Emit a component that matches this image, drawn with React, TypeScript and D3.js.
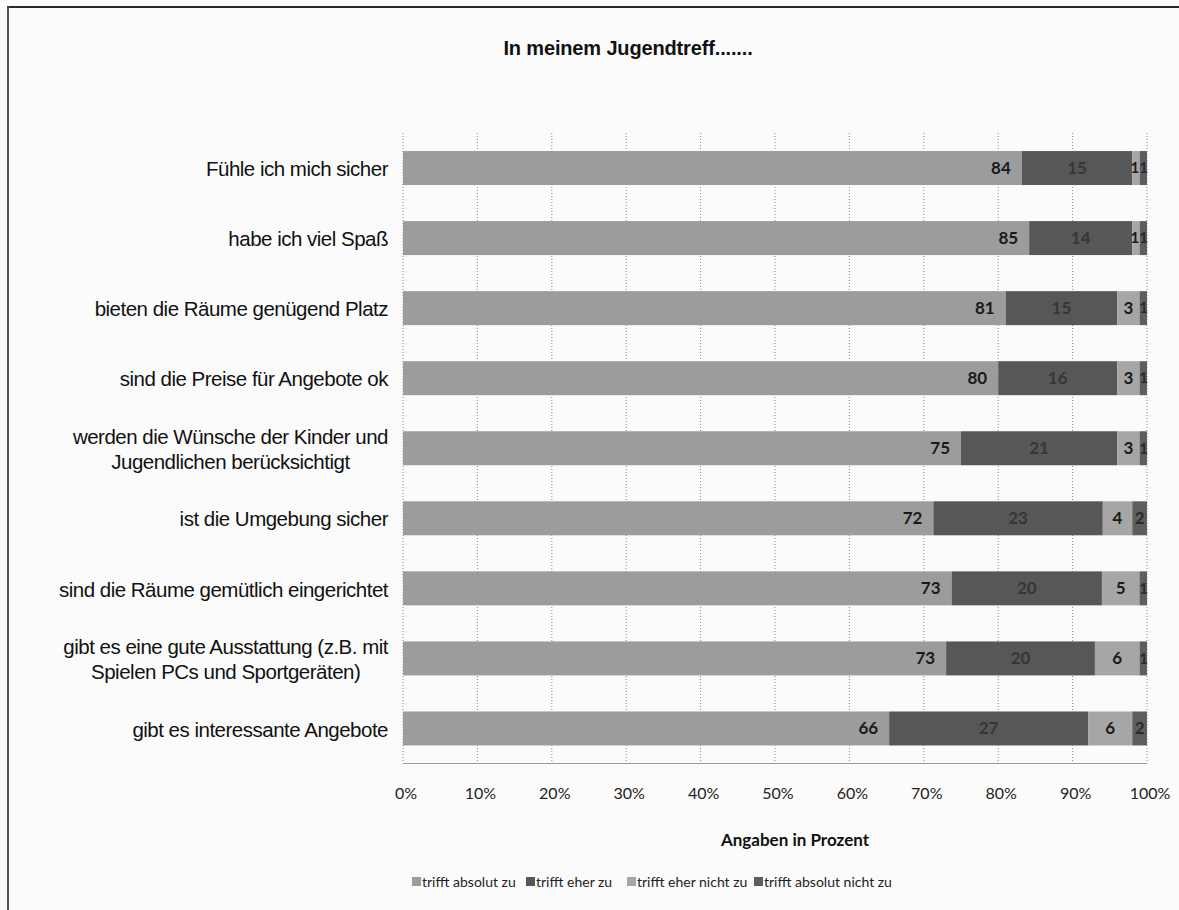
import React, { useEffect, useRef } from "react";
import * as d3 from "d3";

const categories: string[][] = [
  ["Fühle ich mich sicher"],
  ["habe ich viel Spaß"],
  ["bieten die Räume genügend Platz"],
  ["sind die Preise für Angebote ok"],
  ["werden die Wünsche der Kinder und", "Jugendlichen berücksichtigt"],
  ["ist die Umgebung sicher"],
  ["sind die Räume gemütlich eingerichtet"],
  ["gibt es eine gute Ausstattung (z.B. mit", "Spielen PCs und Sportgeräten)"],
  ["gibt es interessante Angebote"],
];
const absolutZu = [84, 85, 81, 80, 75, 72, 73, 73, 66];
const eherZu = [15, 14, 15, 16, 21, 23, 20, 20, 27];
const eherNichtZu = [1, 1, 3, 3, 3, 4, 5, 6, 6];
const absolutNichtZu = [1, 1, 1, 1, 1, 2, 1, 1, 2];
const seriesNames = ["trifft absolut zu", "trifft eher zu", "trifft eher nicht zu", "trifft absolut nicht zu"];
const seriesColors = ["#9c9c9c", "#575757", "#a6a6a6", "#5e5e5e"];
const labelColors = ["#1a1a1a", "#363636", "#1a1a1a", "#2a2a2a"];
const tickValues = [0, 0.1, 0.2, 0.3, 0.4, 0.5, 0.6, 0.7, 0.8, 0.9, 1];
const title = "In meinem Jugendtreff.......";
const axisTitle = "Angaben in Prozent";

export default function App() {
  const ref = useRef<SVGSVGElement>(null);
  useEffect(() => {
    const svg = d3.select(ref.current);
    svg.selectAll("*").remove();
    const W = 1179, H = 910;
    svg.append("rect").attr("width", W).attr("height", H).attr("fill", "#fbfbfb");
    // outer frame
    svg.append("line").attr("x1", 7).attr("x2", W).attr("y1", 7).attr("y2", 7).attr("stroke", "#2a2a2a").attr("stroke-width", 2);
    svg.append("line").attr("x1", 8).attr("x2", 8).attr("y1", 7).attr("y2", H).attr("stroke", "#555").attr("stroke-width", 2);

    const left = 403, right = 1147, top = 133, bottom = 763.5;
    const x = d3.scaleLinear().domain([0, 1]).range([left, right]);
    const idx = categories.map((_, i) => i);
    const y = d3.scaleBand<number>().domain(idx).range([top, bottom]).paddingInner(0.515).paddingOuter(0.2575);

    const rows = idx.map((i) => ({ i, s0: absolutZu[i], s1: eherZu[i], s2: eherNichtZu[i], s3: absolutNichtZu[i] }));
    const stack = d3.stack<any>().keys(["s0", "s1", "s2", "s3"]).offset(d3.stackOffsetExpand);
    const series = stack(rows);

    // gridlines
    svg.append("g").selectAll("line").data(tickValues).join("line")
      .attr("x1", (d) => x(d)).attr("x2", (d) => x(d)).attr("y1", top).attr("y2", bottom)
      .attr("stroke", "#8a8a8a").attr("stroke-width", 1).attr("stroke-dasharray", "1,2");
    svg.append("line").attr("x1", left).attr("x2", right).attr("y1", bottom).attr("y2", bottom)
      .attr("stroke", "#9a9a9a").attr("stroke-width", 1.2);

    // title
    svg.append("text").attr("x", 628).attr("y", 55).attr("text-anchor", "middle")
      .attr("font-family", "Liberation Sans, Arial, sans-serif").attr("font-weight", "bold")
      .attr("font-size", 20).attr("letter-spacing", -0.15).attr("fill", "#111").text(title);

    // bars
    const g = svg.append("g");
    series.forEach((s, k) => {
      g.append("g").selectAll("rect").data(s).join("rect")
        .attr("x", (d: any) => x(d[0])).attr("width", (d: any) => x(d[1]) - x(d[0]))
        .attr("y", (d: any) => y(d.data.i)!).attr("height", y.bandwidth())
        .attr("fill", seriesColors[k]);
    });
    // labels
    const lg = svg.append("g").attr("font-family", "Lato, Carlito, Calibri, sans-serif").attr("font-weight", "bold").attr("font-size", 17);
    series.forEach((s, k) => {
      lg.append("g").selectAll("text").data(s).join("text")
        .each(function (d: any) {
          const t = d3.select(this);
          const w = x(d[1]) - x(d[0]);
          let px = (x(d[0]) + x(d[1])) / 2;
          let anchor = "middle";
          let fs = 17;
          if (k === 0) { px = x(d[1]) - 11; anchor = "end"; }
          else if (k === 3 && w < 10) { px = x(d[1]) + 1; anchor = "end"; fs = 15; }
          else if (k === 2 && w < 10) { px = x(d[1]) - 0.5; anchor = "end"; fs = 15; }
          t.attr("x", px).attr("text-anchor", anchor).attr("font-size", fs);
        })
        .attr("y", (d: any) => y(d.data.i)! + y.bandwidth() / 2)
        .attr("dy", "0.35em")
        .attr("fill", labelColors[k])
        .text((d: any) => String((d.data as any)["s" + k]));
    });

    // category labels
    const cg = svg.append("g").attr("font-family", "Liberation Sans, Arial, sans-serif").attr("font-size", 20.5)
      .attr("letter-spacing", -0.5).attr("fill", "#111");
    categories.forEach((lines, i) => {
      const cy = y(i)! + y.bandwidth() / 2 + 1;
      const lh = 25;
      const texts = lines.map((ln, j) =>
        cg.append("text").attr("y", cy + (j - (lines.length - 1) / 2) * lh).attr("dy", "0.35em").text(ln)
      );
      const widths = texts.map((t) => (t.node() as SVGTextElement).getComputedTextLength());
      const maxW = Math.max(...widths);
      const rx = 388;
      texts.forEach((t) => t.attr("x", rx - maxW / 2).attr("text-anchor", "middle"));
    });

    // x tick labels
    svg.append("g").attr("font-family", "Lato, Carlito, Calibri, sans-serif").attr("font-size", 16).attr("fill", "#222")
      .selectAll("text").data(tickValues).join("text")
      .attr("x", (d) => x(d) + 3).attr("y", 799).attr("text-anchor", "middle")
      .text((d) => d3.format(".0%")(d));

    svg.append("text").attr("x", 795).attr("y", 846).attr("text-anchor", "middle")
      .attr("font-family", "Lato, Carlito, Calibri, sans-serif").attr("font-weight", "bold").attr("font-size", 17)
      .attr("fill", "#111").text(axisTitle);

    // legend
    const legX = [412, 526, 627, 754];
    const leg = svg.append("g").attr("font-family", "Lato, Carlito, Calibri, sans-serif").attr("font-size", 14).attr("fill", "#222");
    seriesNames.forEach((n, k) => {
      leg.append("rect").attr("x", legX[k]).attr("y", 877).attr("width", 9).attr("height", 9).attr("fill", seriesColors[k]);
      leg.append("text").attr("x", legX[k] + 10).attr("y", 887).text(n);
    });
  }, []);
  return (
    <svg ref={ref} width={1179} height={910} style={{ position: "absolute", left: 0, top: 0, display: "block" }} />
  );
}
